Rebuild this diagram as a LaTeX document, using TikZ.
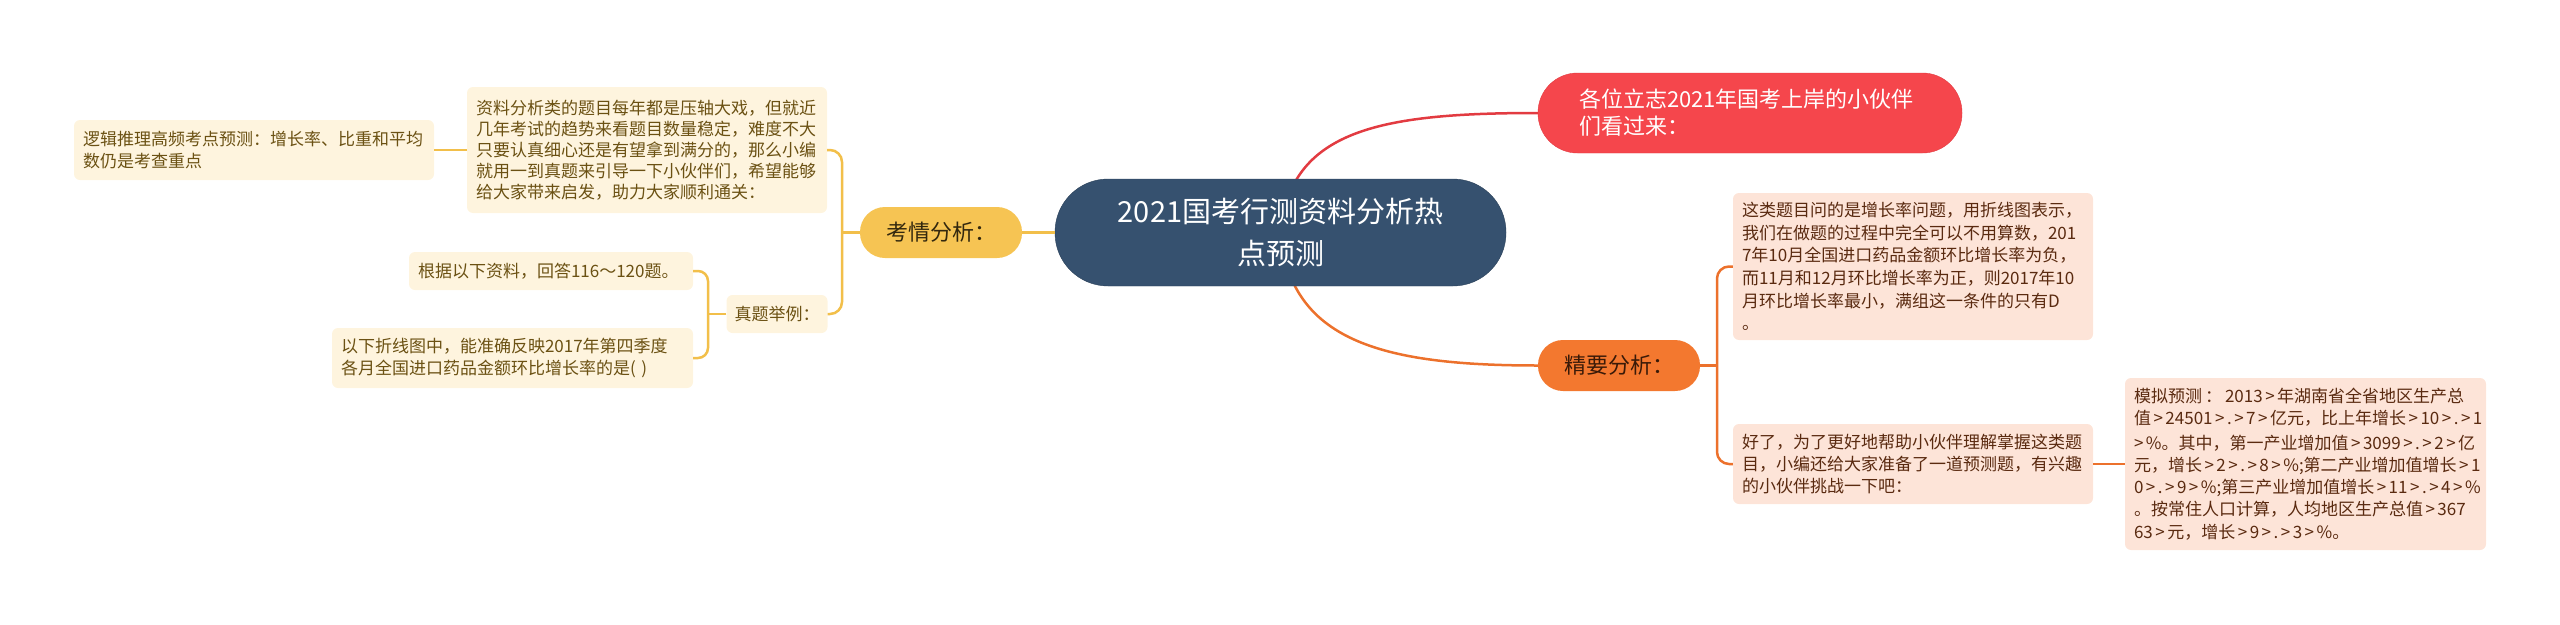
\documentclass[tikz,border=0pt]{standalone}
\usepackage{fontspec}
\setmainfont{Noto Sans CJK SC}
\usepackage{xcolor}
\usetikzlibrary{backgrounds}

\definecolor{topicblue}{HTML}{36516F}
\definecolor{redpill}{HTML}{F5464C}
\definecolor{redline}{HTML}{E23B41}
\definecolor{goldpill}{HTML}{F6C453}
\definecolor{goldline}{HTML}{F2BF4A}
\definecolor{goldleaf}{HTML}{FEF4DE}
\definecolor{goldink}{HTML}{6B5113}
\definecolor{goldpillink}{HTML}{33280E}
\definecolor{orangepill}{HTML}{F3782F}
\definecolor{orangeline}{HTML}{EC712C}
\definecolor{orangeleaf}{HTML}{FDE4D8}
\definecolor{orangeink}{HTML}{5A2A10}
\definecolor{orangepillink}{HTML}{3A1A08}

\newcommand{\fs}[2]{\fontsize{#1pt}{#2pt}\selectfont}
\newcommand{\gtsign}{\kern2.5pt>\kern2.5pt}

\begin{document}
\begin{tikzpicture}[
  x=1pt, y=-1pt,
  font=\fs{17}{22},
  topic/.style={fill=topicblue, draw=topicblue!80!black, text=white, align=center,
                minimum width=451pt, minimum height=107pt, rounded corners=53pt,
                inner sep=0pt, font=\fs{29}{42}},
  branch/.style={minimum width=162pt, minimum height=51pt, rounded corners=25pt,
                 inner sep=0pt, font=\fs{22}{27}},
  leaf/.style={rounded corners=6pt, align=left, inner xsep=9pt, inner ysep=0pt},
  yleaf/.style={leaf, fill=goldleaf, text=goldink},
  oleaf/.style={leaf, fill=orangeleaf, text=orangeink},
  link/.style={line width=2.5pt},
  glink/.style={link, draw=goldline},
  olink/.style={link, draw=orangeline}
]
\useasboundingbox (0,0) rectangle (2560,624);

% centre
\node[topic] (root) at (1280.5,232.5) {2021国考行测资料分析热\\点预测};

% right side
\node[branch, fill=redpill, draw=redline, text=white, align=left, text width=342pt,
      inner xsep=41pt, minimum height=80pt, rounded corners=39.5pt]
      (intro) at (1750,113) {各位立志2021年国考上岸的小伙伴\\们看过来：};
\node[branch, fill=orangepill, text=orangepillink] (jy) at (1619,365.5) {精要分析：};
\node[oleaf, text width=342pt, minimum height=147pt, font=\fs{17}{22.7}] (jy1) at (1913,266.5)
  {这类题目问的是增长率问题，用折线图表示，\\我们在做题的过程中完全可以不用算数，201\\7年10月全国进口药品金额环比增长率为负，\\而11月和12月环比增长率为正，则2017年10\\月环比增长率最小，满组这一条件的只有D\\。};
\node[oleaf, text width=342pt, minimum height=80pt] (jy2) at (1913,464)
  {好了，为了更好地帮助小伙伴理解掌握这类题\\目，小编还给大家准备了一道预测题，有兴趣\\的小伙伴挑战一下吧：};
\node[oleaf, text width=343pt, minimum height=172pt, font=\fs{17}{22.2}] (mn) at (2305.5,464)
  {模拟预测\kern3pt：\kern3pt2013\gtsign 年湖南省全省地区生产总\\值\gtsign 24501\gtsign.\gtsign 7\gtsign 亿元，比上年增长\gtsign 10\gtsign.\gtsign 1\\\gtsign\%。其中，第一产业增加值\gtsign 3099\gtsign.\gtsign 2\gtsign 亿\\元，增长\gtsign 2\gtsign.\gtsign 8\gtsign\%;第二产业增加值增长\gtsign 1\\0\gtsign.\gtsign 9\gtsign\%;第三产业增加值增长\gtsign 11\gtsign.\gtsign 4\gtsign\%\\。按常住人口计算，人均地区生产总值\gtsign 367\\63\gtsign 元，增长\gtsign 9\gtsign.\gtsign 3\gtsign\%。};

% left side
\node[branch, fill=goldpill, text=goldpillink] (kq) at (941,232.5) {考情分析：};
\node[yleaf, text width=342pt, minimum height=126pt, font=\fs{17}{21}] (zl) at (647,150)
  {资料分析类的题目每年都是压轴大戏，但就近\\几年考试的趋势来看题目数量稳定，难度不大\\只要认真细心还是有望拿到满分的，那么小编\\就用一到真题来引导一下小伙伴们，希望能够\\给大家带来启发，助力大家顺利通关：};
\node[yleaf, text width=342pt, minimum height=60pt, font=\fs{17}{21.7}] (lj) at (254,150)
  {逻辑推理高频考点预测：增长率、比重和平均\\数仍是考查重点};
\node[yleaf, text width=85pt, inner xsep=8pt, minimum height=38pt] (zt) at (777,314) {真题举例：};
\node[yleaf, text width=266pt, minimum height=38pt] (gj) at (551,271) {根据以下资料，回答116～120题。};
\node[yleaf, text width=343pt, minimum height=60pt, font=\fs{17}{21.7}] (yx) at (512.5,358)
  {以下折线图中，能准确反映2017年第四季度\\各月全国进口药品金额环比增长率的是( )};

% connectors
\begin{scope}[on background layer]
\draw[link, draw=redline] (root.center) .. controls (1290,130) and (1380,113) .. (intro.west);
\draw[olink] (root.center) .. controls (1290,340) and (1380,365.5) .. (jy.west);
\end{scope}
\coordinate (jyfork) at (1717,365.5);
\draw[olink] (jy.east) -- (jyfork);
\draw[olink, rounded corners=12pt] (jy1.west) -| (jyfork) |- (jy2.west);
\draw[olink] (jy2.east) -- (mn.west);

\draw[glink] (root.west) -- (kq.east);
\coordinate (kqfork) at (842,232.5);
\draw[glink] (kq.west) -- (kqfork);
\draw[glink, rounded corners=12pt] (zl.east) -| (kqfork) |- (zt.east);
\draw[glink] (zl.west) -- (lj.east);
\coordinate (ztfork) at (708,314);
\draw[glink] (zt.west) -- (ztfork);
\draw[glink, rounded corners=10pt] (gj.east) -| (ztfork) |- (yx.east);
\end{tikzpicture}
\end{document}
